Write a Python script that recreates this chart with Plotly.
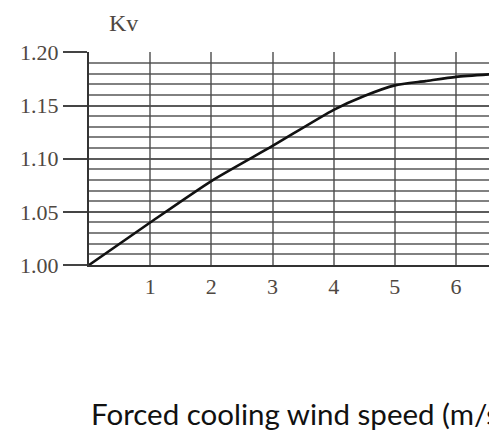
import plotly.graph_objects as go

# Data
wind_speed = [0, 1, 2, 3, 4, 4.5, 5, 5.5, 6, 6.7]
kv = [1.000, 1.040, 1.079, 1.112, 1.146, 1.159, 1.169, 1.173, 1.177, 1.180]

x_tick_vals = [1, 2, 3, 4, 5, 6]
x_tick_text = ["1", "2", "3", "4", "5", "6"]
y_tick_vals = [1.00, 1.05, 1.10, 1.15, 1.20]
y_tick_text = ["1.00", "1.05", "1.10", "1.15", "1.20"]

y_title = "Kv"
x_title = "Forced cooling wind speed (m/s)"

grid_col = "rgba(75,75,75,0.7)"
label_col = "#4f4842"
serif = "Liberation Serif, Times New Roman, serif"

fig = go.Figure()
fig.add_trace(go.Scatter(
    x=wind_speed, y=kv, mode="lines",
    line=dict(color="#111111", width=2.6, shape="spline", smoothing=0.6),
    showlegend=False, hoverinfo="skip",
))

# page body has an 8px margin, so the figure is 489x422 and sits at (8, 8)
fig.update_layout(
    width=489, height=422,
    margin=dict(l=81, r=0, t=44, b=165, pad=0),
    paper_bgcolor="white", plot_bgcolor="white",
    showlegend=False,
    xaxis=dict(
        range=[0, 6.67], tickmode="array", tickvals=x_tick_vals, ticktext=x_tick_text,
        showgrid=True, gridcolor=grid_col, gridwidth=1.9,
        zeroline=False, showline=True, linecolor="#333333", linewidth=2.2,
        ticks="", ticklabelstandoff=0,
        tickfont=dict(family=serif, size=22, color=label_col),
        automargin=False, fixedrange=True,
    ),
    yaxis=dict(
        range=[1.0, 1.2004], tickmode="array", tickvals=y_tick_vals, ticktext=y_tick_text,
        showgrid=True, gridcolor=grid_col, gridwidth=1.9,
        minor=dict(dtick=0.01, tick0=1.0, showgrid=True, gridcolor=grid_col, gridwidth=1.9, ticks=""),
        zeroline=False, showline=True, linecolor="#333333", linewidth=2.2,
        ticks="outside", ticklen=24, tickwidth=1.8, tickcolor="#444444",
        tickfont=dict(family=serif, size=22, color=label_col),
        automargin=False, fixedrange=True,
    ),
    annotations=[
        dict(text=y_title, xref="paper", yref="paper", x=0.045, y=1.0, xanchor="left", yanchor="bottom",
             yshift=14, showarrow=False, font=dict(family=serif, size=24, color=label_col)),
        dict(text=x_title, xref="paper", yref="paper", x=0.0, y=0.0, xanchor="left", yanchor="middle",
             xshift=0, yshift=-148, showarrow=False,
             font=dict(family="Lato, Carlito, sans-serif", size=29.5, color="#111111")),
    ],
)

fig.write_html("out.html")
